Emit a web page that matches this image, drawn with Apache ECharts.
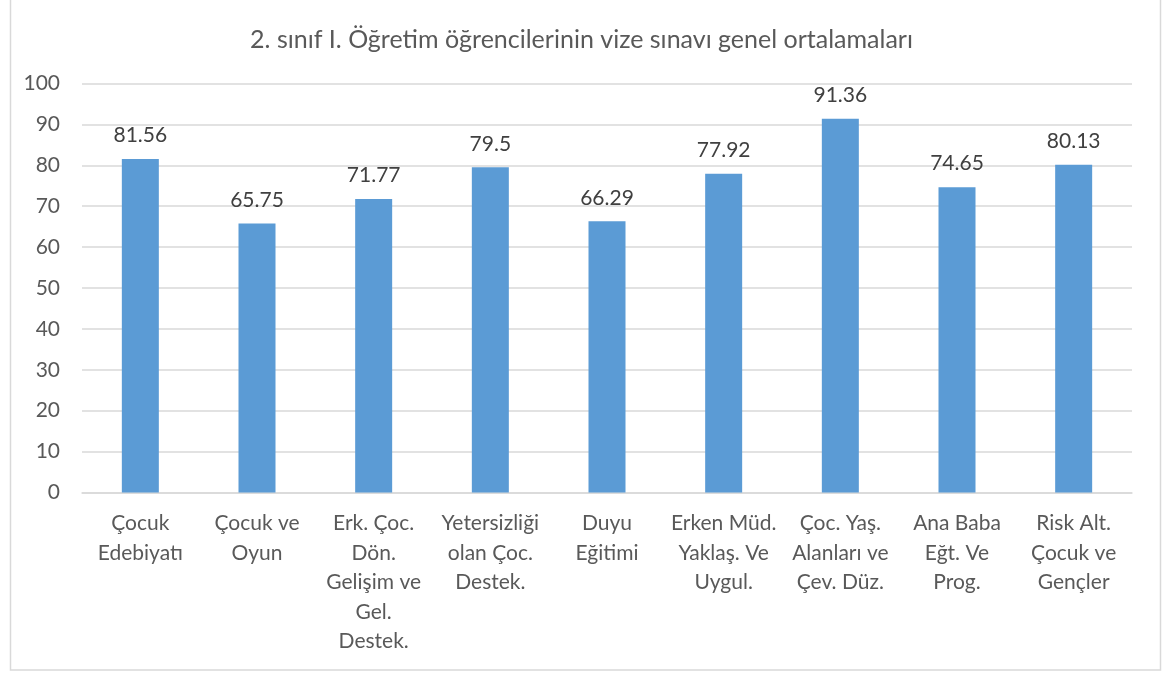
<!DOCTYPE html>
<html>
<head>
<meta charset="utf-8">
<script src="https://cdn.jsdelivr.net/npm/echarts@6/dist/echarts.min.js"></script>
<style>
  html, body { margin: 0; padding: 0; background: #fff; }
  #chart { width: 1163px; height: 673px; }
</style>
</head>
<body>
<div id="chart"></div>
<script>
const title = '2. sınıf I. Öğretim öğrencilerinin vize sınavı genel ortalamaları'
const categories = [
  'Çocuk\nEdebiyatı',
  'Çocuk ve\nOyun',
  'Erk. Çoc.\nDön.\nGelişim ve\nGel.\nDestek.',
  'Yetersizliği\nolan Çoc.\nDestek.',
  'Duyu\nEğitimi',
  'Erken Müd.\nYaklaş. Ve\nUygul.',
  'Çoc. Yaş.\nAlanları ve\nÇev. Düz.',
  'Ana Baba\nEğt. Ve\nProg.',
  'Risk Alt.\nÇocuk ve\nGençler'
]
const averages = [81.56, 65.75, 71.77, 79.5, 66.29, 77.92, 91.36, 74.65, 80.13]
const yTicks = [0, 100, 10]

const font = 'Lato, "Noto Sans", sans-serif'
const chart = echarts.init(document.getElementById('chart'))

chart.setOption({
  animation: false,
  backgroundColor: '#fff',
  title: {
    text: title,
    left: 'center',
    top: 22,
    textStyle: {fontFamily: font, fontSize: 25, fontWeight: 'normal', color: '#595959'}
  },
  graphic: [{
    type: 'rect',
    shape: {x: 10.5, y: -2, width: 1150, height: 672},
    style: {fill: 'none', stroke: '#d9d9d9', lineWidth: 1.5},
    silent: true
  }],
  grid: {left: 82, right: 31, top: 83.5, bottom: 180.5, containLabel: false},
  xAxis: {
    type: 'category',
    data: categories,
    axisLine: {lineStyle: {color: '#d9d9d9', width: 1.5}},
    axisTick: {show: false},
    axisLabel: {
      interval: 0,
      margin: 16,
      fontFamily: font,
      fontSize: 21,
      lineHeight: 29.5,
      color: '#595959',
      align: 'center'
    }
  },
  yAxis: {
    type: 'value',
    min: yTicks[0],
    max: yTicks[1],
    interval: yTicks[2],
    axisLine: {show: false},
    axisTick: {show: false},
    splitLine: {lineStyle: {color: '#d9d9d9', width: 1.5}},
    axisLabel: {margin: 22, fontFamily: font, fontSize: 21, color: '#595959'}
  },
  series: [{
    type: 'bar',
    data: averages,
    barWidth: 37,
    itemStyle: {color: '#5b9bd5'},
    label: {
      show: true,
      position: 'top',
      distance: 13,
      fontFamily: font,
      fontSize: 21,
      color: '#404040'
    }
  }]
})
</script>
</body>
</html>
